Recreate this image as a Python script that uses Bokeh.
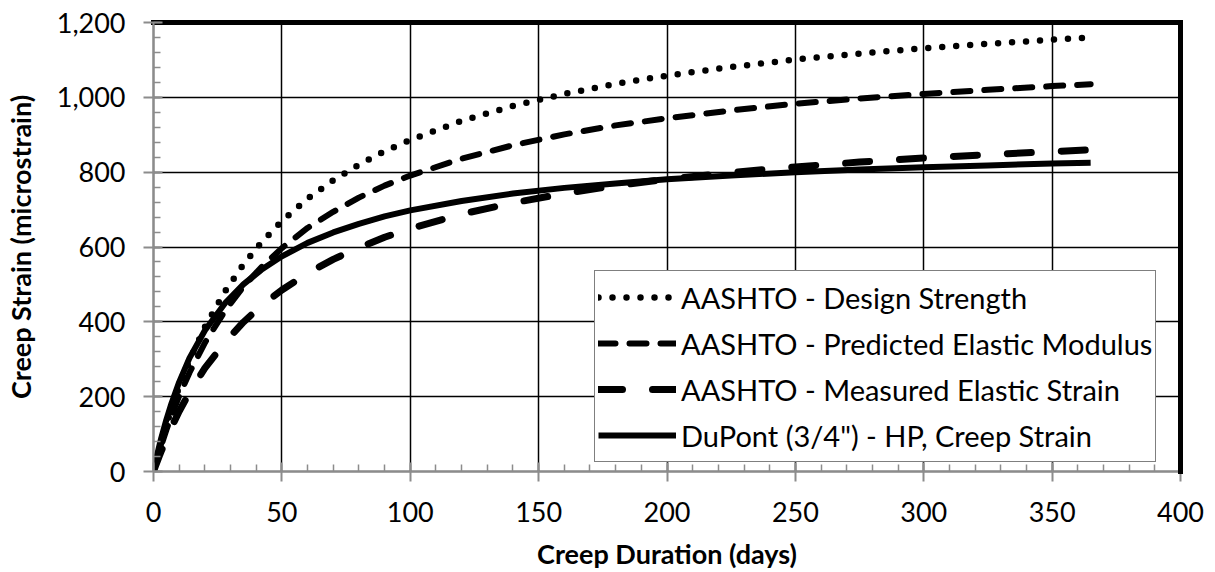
from bokeh.plotting import figure
from bokeh.models import (Range1d, SingleIntervalTicker, NumeralTickFormatter, LinearAxis,
                          FixedTicker, Legend, LegendItem)
from bokeh.embed import file_html
from bokeh.resources import INLINE

# ---- data ----
days = [0, 1, 2, 3, 5, 7, 10, 14, 20, 28, 35, 42, 50, 60, 70, 80, 90, 100,
        120, 140, 160, 180, 200, 225, 250, 275, 300, 325, 350, 365]
design_strength = [0, 27, 52, 77, 124, 167, 226, 296, 386, 483, 553, 612, 669, 729, 778, 820,
                   856, 886, 937, 977, 1009, 1036, 1058, 1081, 1101, 1117, 1131, 1143, 1154, 1160]
predicted_modulus = [0, 24, 47, 69, 111, 149, 202, 264, 344, 431, 494, 546, 597, 651, 694, 732,
                     764, 791, 836, 872, 901, 925, 944, 965, 983, 997, 1009, 1020, 1030, 1035]
measured_elastic = [0, 19, 37, 54, 88, 118, 161, 211, 276, 347, 399, 443, 485, 530, 567, 598,
                    626, 649, 688, 718, 743, 764, 781, 799, 814, 827, 838, 847, 855, 860]
dupont_creep = [0, 32, 61, 89, 138, 182, 239, 303, 377, 451, 500, 539, 575, 611, 639, 662,
                682, 698, 723, 743, 758, 770, 781, 791, 800, 807, 813, 818, 823, 825]

series_labels = ["AASHTO - Design Strength",
                 "AASHTO - Predicted Elastic Modulus",
                 "AASHTO - Measured Elastic Strain",
                 "DuPont (3/4\") - HP, Creep Strain"]

x_title = "Creep Duration (days)"
y_title = "Creep Strain (microstrain)"

FONT = "Lato"
GRAY = "#8c8c8c"

p = figure(width=1207, height=572, x_range=Range1d(0, 400), y_range=Range1d(0, 1200),
           output_backend="svg", toolbar_location=None,
           min_border_left=153, min_border_right=27, min_border_top=22, min_border_bottom=101,
           background_fill_color="white", border_fill_color="white",
           outline_line_color="black", outline_line_width=1.5)

p.xaxis.ticker = SingleIntervalTicker(interval=50, num_minor_ticks=5)
p.yaxis.ticker = SingleIntervalTicker(interval=200, num_minor_ticks=5)
p.yaxis.formatter = NumeralTickFormatter(format="0,0")
p.xaxis.axis_label = x_title
p.yaxis.axis_label = y_title

for ax in [p.xaxis[0], p.yaxis[0]]:
    ax.axis_line_color = GRAY
    ax.axis_line_width = 2
    ax.major_tick_line_color = GRAY
    ax.major_tick_line_width = 2
    ax.major_tick_in = 9
    ax.major_tick_out = 10
    ax.minor_tick_line_color = GRAY
    ax.minor_tick_line_width = 1.5
    ax.minor_tick_in = 7
    ax.minor_tick_out = 0
    ax.major_label_text_font = FONT
    ax.major_label_text_font_size = "27px"
    ax.major_label_text_color = "black"
    ax.axis_label_text_font = FONT
    ax.axis_label_text_font_style = "bold"
    ax.axis_label_text_font_size = "27px"
    ax.axis_label_text_color = "black"

p.xaxis.major_label_standoff = 20
p.xaxis.axis_label_standoff = 12
p.yaxis.major_label_standoff = 18
p.yaxis.axis_label_standoff = 17

p.grid.grid_line_color = "black"
p.grid.grid_line_width = 1.5

# thick top / right frame edges
for side in ["above", "right"]:
    edge = LinearAxis(ticker=FixedTicker(ticks=[]), axis_line_color="black", axis_line_width=5,
                      axis_line_cap="square", major_tick_in=0, major_tick_out=0,
                      minor_tick_in=0, minor_tick_out=0, major_label_standoff=0)
    p.add_layout(edge, side)

r1 = p.line(days, design_strength, line_color="black", line_width=6.5, line_dash="0 14",
            line_cap="round")
r2 = p.line(days, predicted_modulus, line_color="black", line_width=6, line_dash="17 14",
            line_cap="round")
r3 = p.line(days, measured_elastic, line_color="black", line_width=7, line_dash="24 30",
            line_cap="round")
r4 = p.line(days, dupont_creep, line_color="black", line_width=6)

legend = Legend(items=[LegendItem(label=series_labels[i], renderers=[r])
                       for i, r in enumerate([r1, r2, r3, r4])],
                location=(441, 9), label_text_font=FONT, label_text_font_size="29px",
                label_text_color="black", glyph_width=78, glyph_height=46, label_height=46,
                spacing=0, padding=3, label_standoff=5, margin=0,
                border_line_color="black", border_line_width=1.5,
                background_fill_color="white", background_fill_alpha=1.0)
p.add_layout(legend)

open("out.html", "w").write(file_html(p, INLINE))
